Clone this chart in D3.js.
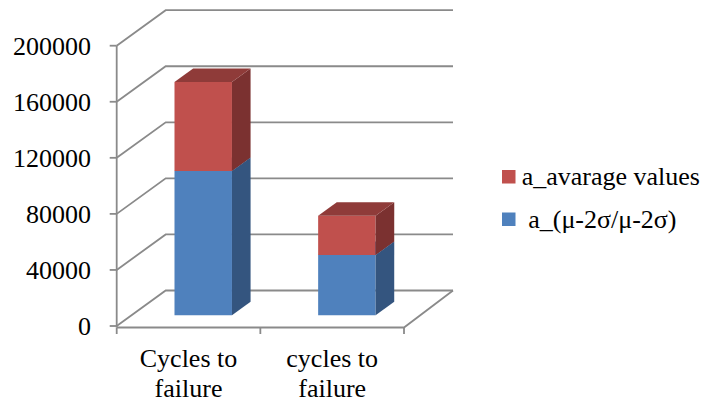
<!DOCTYPE html>
<html>
<head>
<meta charset="utf-8">
<script src="https://cdn.jsdelivr.net/npm/d3@7"></script>
<style>
  html, body { margin: 0; padding: 0; background: #ffffff; }
  svg { display: block; }
</style>
</head>
<body>
<svg id="chart" width="706" height="405"></svg>
<script>
// Chart data
const categories = ["Cycles to failure", "cycles to failure"];
const categoryLines = [["Cycles to", "failure"], ["cycles to", "failure"]];
const lowerValues = [103000, 43000];   // a_(μ-2σ/μ-2σ)
const upperValues = [63500, 28000];    // a_avarage values
const yTicks = [0, 40000, 80000, 120000, 160000, 200000];
const legendOrder = ["a_avarage values", " a_(\u03bc-2\u03c3/\u03bc-2\u03c3)"];

const FONT = "Liberation Serif";
const svg = d3.select("#chart");

function serifText(sel) {
  return sel.style("font-family", FONT, "important").style("font-size", "26px", "important");
}

// Oblique 3D frame
const x0 = 116.7, x1 = 404;
const depthX = 49, depthY = -35.5;
const barDepthStart = 0.3, barDepthEnd = 0.68;

const y = d3.scaleLinear().domain([0, 200000]).range([326, 45.7]);
const x = d3.scaleBand().domain(categories).range([x0, x1])
  .paddingInner(0.6).paddingOuter(0.3);

const gridColor = "#8a8a8a";
const grid = svg.append("g").attr("fill", "none").attr("stroke", gridColor).attr("stroke-width", 1.8);

// Side wall diagonals + back wall gridlines
yTicks.forEach(v => {
  const yf = y(v), yb = y(v) + depthY;
  grid.append("path").attr("d", d3.line()([[x0, yf], [x0 + depthX, yb], [x1 + depthX, yb]]));
});

// Floor front edge and right edge
grid.append("path").attr("d", d3.line()([[x0, y(0) + 1.5], [x1, y(0) + 1.5], [x1 + depthX, y(0) + depthY]]));

// Value axis line and ticks
grid.append("line").attr("x1", x0).attr("x2", x0).attr("y1", y(200000)).attr("y2", y(0) + 1.5);
yTicks.forEach(v => {
  grid.append("line").attr("x1", x0 - 7).attr("x2", x0).attr("y1", y(v)).attr("y2", y(v));
});

// Category ticks
const catBoundaries = [x0, (x0 + x1) / 2, x1];
catBoundaries.forEach(cx => {
  grid.append("line").attr("x1", cx).attr("x2", cx).attr("y1", y(0) + 1.5).attr("y2", y(0) + 8);
});

// Value labels
yTicks.forEach(v => {
  serifText(svg.append("text")
    .attr("x", 91).attr("y", y(v) + 9.3)
    .attr("text-anchor", "end"))
    .text(String(v));
});

// Category labels
categories.forEach((c, i) => {
  const cx = x(c) - x.step() * x.paddingInner() / 2 + x.step() / 2;
  categoryLines[i].forEach((line, j) => {
    serifText(svg.append("text").attr("x", cx).attr("y", 366.7 + j * 30)
      .attr("text-anchor", "middle")).text(line);
  });
});

// 3D stacked bars
const colors = {
  lower: { front: "#4f81bd", side: "#34557f", top: "#3e6797" },
  upper: { front: "#c0504d", side: "#7b3130", top: "#8f3b39" }
};
const bars = svg.append("g");
function drawBox(cat, v0, v1, col) {
  const bx = x(cat) + barDepthStart * depthX;
  const bw = x.bandwidth();
  const ox = barDepthStart * depthY;
  const ddx = (barDepthEnd - barDepthStart) * depthX;
  const ddy = (barDepthEnd - barDepthStart) * depthY;
  const yb = y(v0) + ox, yt = y(v1) + ox;
  const line = d3.line();
  bars.append("path").attr("fill", col.front)
    .attr("d", line([[bx, yb], [bx + bw, yb], [bx + bw, yt], [bx, yt]]) + "Z");
  bars.append("path").attr("fill", col.side)
    .attr("d", line([[bx + bw, yb], [bx + bw + ddx, yb + ddy], [bx + bw + ddx, yt + ddy], [bx + bw, yt]]) + "Z");
  bars.append("path").attr("fill", col.top)
    .attr("d", line([[bx, yt], [bx + bw, yt], [bx + bw + ddx, yt + ddy], [bx + ddx, yt + ddy]]) + "Z");
}
categories.forEach((c, i) => {
  drawBox(c, 0, lowerValues[i], colors.lower);
  drawBox(c, lowerValues[i], lowerValues[i] + upperValues[i], colors.upper);
});

// Legend
const legendColors = [colors.upper.front, colors.lower.front];
legendOrder.forEach((name, i) => {
  const ly = 170 + i * 42.5;
  svg.append("rect").attr("x", 502).attr("y", ly).attr("width", 13.5).attr("height", 13.5)
    .attr("fill", legendColors[i]);
  serifText(svg.append("text").attr("x", 521.7).attr("y", ly + 15))
    .style("white-space", "pre").text(name);
});
</script>
</body>
</html>
